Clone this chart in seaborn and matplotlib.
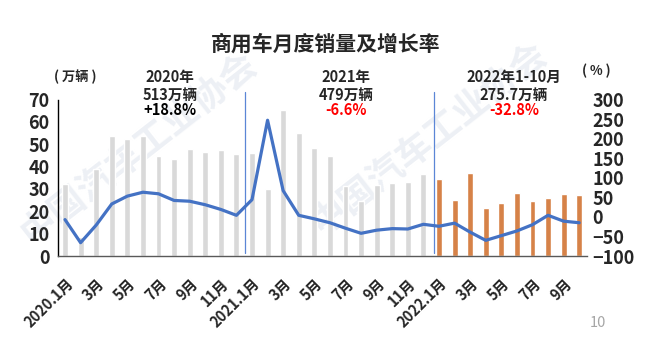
import numpy as np
import pandas as pd
import matplotlib
matplotlib.use("Agg")
import matplotlib.pyplot as plt
import seaborn as sns

# Monthly commercial vehicle sales (10k units) and year-on-year growth (%)
months = [f"{y}.{m}" for y in (2020, 2021) for m in range(1, 13)] + [f"2022.{m}" for m in range(1, 11)]
sales_2020 = [32.2, 8.6, 39.0, 53.7, 52.3, 53.7, 44.9, 43.4, 47.9, 46.5, 47.5, 45.8]
sales_2021 = [46.1, 30.0, 65.3, 55.2, 48.3, 44.7, 31.3, 24.6, 31.8, 32.6, 33.1, 36.5]
sales_2022 = [34.4, 25.0, 37.0, 21.6, 23.9, 28.2, 24.6, 26.0, 27.9, 27.3]
growth = [-7, -66, -21, 33, 53, 63, 59, 42, 40, 31, 19, 4,
          44, 247, 67, 4, -5, -15, -29, -42, -34, -30, -31, -19,
          -24, -16, -39, -60, -48, -36, -20, 4, -11, -15]
tick_labels = ["2020.1月", "3月", "5月", "7月", "9月", "11月",
               "2021.1月", "3月", "5月", "7月", "9月", "11月",
               "2022.1月", "3月", "5月", "7月", "9月"]
year_notes = [("2020年\n513万辆", "+18.8%", "black"),
              ("2021年\n479万辆", "-6.6%", "#FF0000"),
              ("2022年1-10月\n275.7万辆", "-32.8%", "#FF0000")]

sns.set_theme(style="white")
plt.rcParams["font.family"] = ["Noto Sans CJK SC", "DejaVu Sans"]

df = pd.DataFrame({
    "month": months,
    "sales": sales_2020 + sales_2021 + sales_2022,
    "period": ["past"] * 24 + ["current"] * 10,
    "pos": np.arange(len(months)),
    "growth": growth,
})

fig = plt.figure(figsize=(6.5, 3.46), dpi=100)

# faint association watermark in the page background
wm_color = "#EDF0F5"
for (x, y) in [(0.215, 0.57), (0.66, 0.60)]:
    fig.text(x, y, "中国汽车工业协会", fontsize=26, fontweight="bold",
             color=wm_color, rotation=38, ha="center", va="center", zorder=-5)

ax = fig.add_axes([58 / 650, 1 - 256 / 346, (587 - 58) / 650, (256 - 99.5) / 346])
sns.barplot(data=df, x="month", y="sales", hue="period", order=months,
            palette={"past": "#D9D9D9", "current": "#ED7D31"}, dodge=False,
            width=0.38, legend=False, ax=ax, zorder=2)
ax.set_ylim(0, 70)
ax.set_xlim(-0.45, len(months) - 0.5)
ax.set_yticks(range(0, 71, 10))
ax.set_xticks(np.arange(0, len(months), 2))
ax.set_xticklabels(tick_labels, rotation=45, ha="right", rotation_mode="anchor",
                   fontsize=10.5, fontweight="bold")
ax.tick_params(axis="y", labelsize=13, length=0, pad=6)
ax.tick_params(axis="x", length=0, pad=14)
for t in ax.get_yticklabels():
    t.set_fontweight("bold")
ax.set_xlabel("")
ax.set_ylabel("")
for s in ("top", "right"):
    ax.spines[s].set_visible(False)
ax.spines["left"].set_color("black")
ax.spines["left"].set_linewidth(1.0)
ax.spines["bottom"].set_color("#595959")
ax.spines["bottom"].set_linewidth(1.0)
ax.patch.set_alpha(0)

# year separators
for xs in (11.55, 23.65):
    ax.plot([xs, xs], [1.5, 73.5], color="#5B86D6", lw=0.9, clip_on=False, zorder=3)

ax2 = ax.twinx()
sns.lineplot(data=df, x="pos", y="growth", color="#4472C4", lw=2.3, ax=ax2, zorder=4)
ax2.set_ylim(-100, 300)
ax2.set_yticks(range(-100, 301, 50))
ax2.tick_params(axis="y", labelsize=13, length=0, pad=4)
for t in ax2.get_yticklabels():
    t.set_fontweight("bold")
ax2.set_ylabel("")
ax2.set_xlabel("")
for s in ("top", "right", "left", "bottom"):
    ax2.spines[s].set_visible(False)
ax2.set_xlim(ax.get_xlim())

# titles and notes
fig.text(326 / 650, 1 - 44 / 346, "商用车月度销量及增长率", fontsize=15, fontweight="bold",
         ha="center", va="center")
fig.text(75 / 650, 1 - 77 / 346, "( 万辆 )", fontsize=9.5, fontweight="bold", ha="center", va="center")
fig.text(596 / 650, 1 - 71 / 346, "( % )", fontsize=9.5, fontweight="bold", ha="center", va="center")
for (xc, (head, pct, col)) in zip((170, 346, 514), year_notes):
    fig.text(xc / 650, 1 - 86 / 346, head, fontsize=10.5, fontweight="bold", ha="center",
             va="center", linespacing=1.1)
    fig.text(xc / 650, 1 - 110 / 346, pct, fontsize=10.5, fontweight="bold", ha="center",
             va="center", color=col)
fig.text(598 / 650, 1 - 323 / 346, "10", fontsize=10.5, color="#A6A6A6", ha="center", va="center")

fig.savefig("out.png", dpi=100, facecolor="white")
